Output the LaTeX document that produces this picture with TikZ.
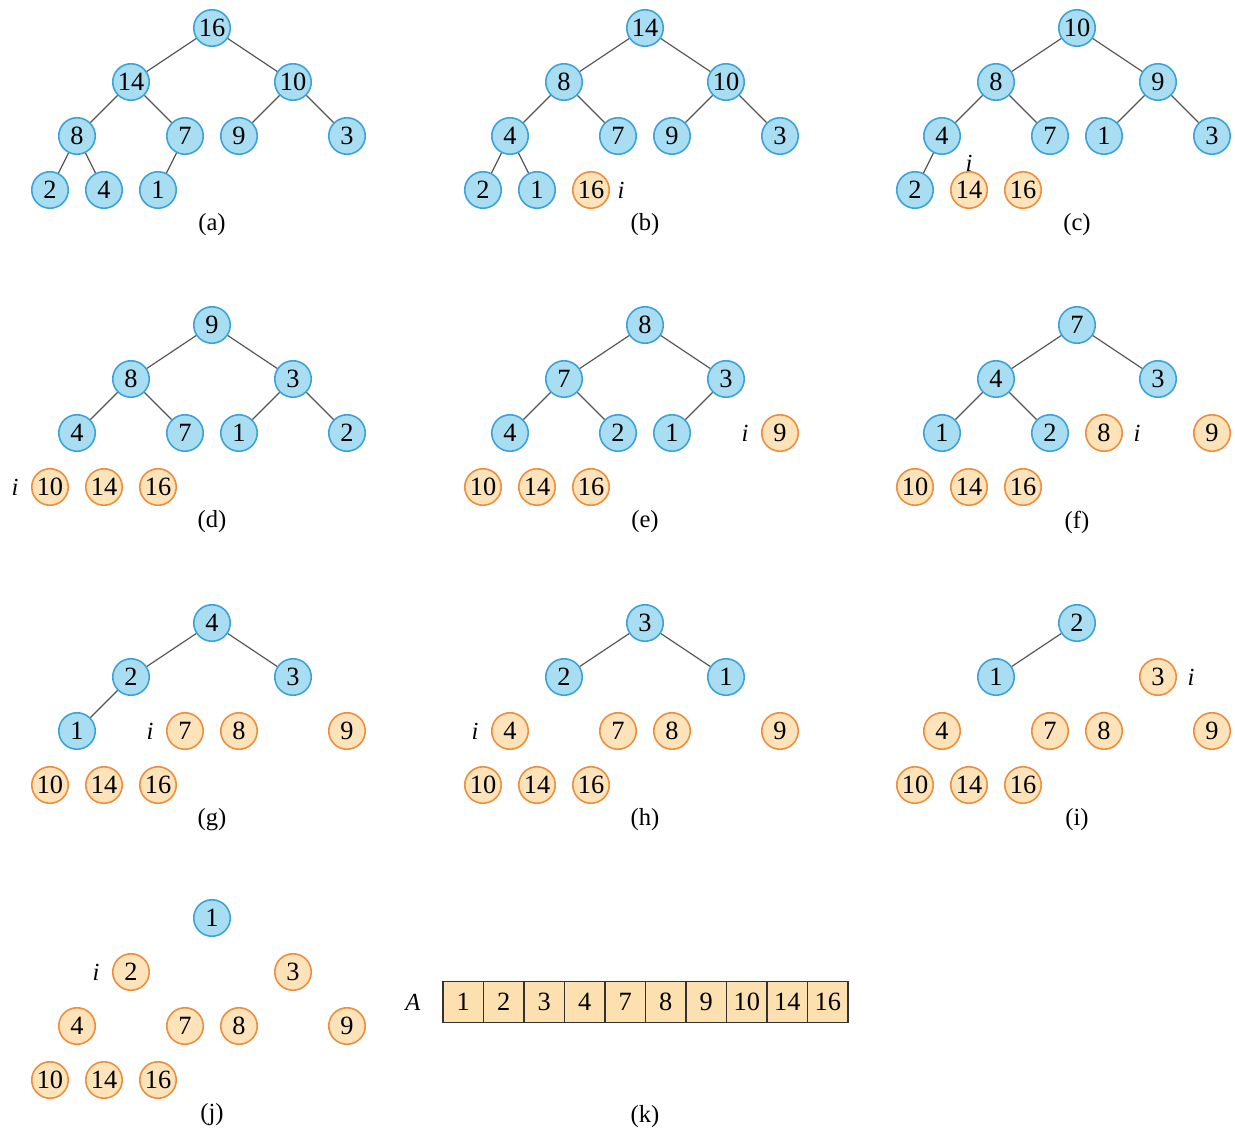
\documentclass[tikz,border=0pt]{standalone}
\usepackage{fontspec}
\setmainfont{Liberation Serif}
\definecolor{bfill}{HTML}{A8DDF2}
\definecolor{bdraw}{HTML}{3BA3DA}
\definecolor{ofill}{HTML}{FDE3BA}
\definecolor{odraw}{HTML}{EE8E3C}
\definecolor{afill}{HTML}{FCE0B0}
\definecolor{edgegray}{HTML}{555555}
\tikzset{
  hn/.style={circle, draw=bdraw, fill=bfill, line width=0.9pt, minimum size=0.73cm, inner sep=0pt, font=\fontsize{15}{15}\selectfont},
  sn/.style={circle, draw=odraw, fill=ofill, line width=0.9pt, minimum size=0.73cm, inner sep=0pt, font=\fontsize{15}{15}\selectfont},
  ed/.style={draw=edgegray, line width=0.7pt},
  lab/.style={font=\fontsize{14}{14}\selectfont},
  ivar/.style={font=\itshape\fontsize{14}{14}\selectfont},
  cell/.style={rectangle, draw=black!80, fill=afill, line width=0.8pt, minimum width=0.81cm, minimum height=0.82cm, inner sep=0pt, font=\fontsize{15}{15}\selectfont}
}
\newcommand\heap[4]{% name, shift, nodes p/v/s, edges
  \begin{scope}[shift={#2}]
    \foreach \p/\v/\s in {#3}{
      \pgfmathsetmacro\xx{{212,131,293,77,185,239,347,50,104,158}[\p-1]}
      \pgfmathsetmacro\yy{{28,82,82,136,136,136,136,190,190,190}[\p-1]}
      \node[\s] (#1\p) at (\xx,\yy) {\v};
    }
    \node[lab] (#1lab) at (212,225) {(#1)};
  \end{scope}
  \foreach \u/\w in {#4}{\draw[ed] (#1\u) -- (#1\w);}
}
\begin{document}
\begin{tikzpicture}[x=0.02cm,y=-0.02cm]
\useasboundingbox (0,0) rectangle (1235,1132);
% (a)
\heap{a}{(0,0)}{1/16/hn,2/14/hn,3/10/hn,4/8/hn,5/7/hn,6/9/hn,7/3/hn,8/2/hn,9/4/hn,10/1/hn}{1/2,1/3,2/4,2/5,3/6,3/7,4/8,4/9,5/10}
% (b)
\heap{b}{(433,0)}{1/14/hn,2/8/hn,3/10/hn,4/4/hn,5/7/hn,6/9/hn,7/3/hn,8/2/hn,9/1/hn,10/16/sn}{1/2,1/3,2/4,2/5,3/6,3/7,4/8,4/9}
\node[ivar] (bi) at ([xshift=0.6cm]b10.center) {i};
% (c)
\heap{c}{(865,0)}{1/10/hn,2/8/hn,3/9/hn,4/4/hn,5/7/hn,6/1/hn,7/3/hn,8/2/hn,9/14/sn,10/16/sn}{1/2,1/3,2/4,2/5,3/6,3/7,4/8}
\node[ivar] (ci) at ([yshift=0.54cm]c9.center) {i};
% (d)
\heap{d}{(0,297)}{1/9/hn,2/8/hn,3/3/hn,4/4/hn,5/7/hn,6/1/hn,7/2/hn,8/10/sn,9/14/sn,10/16/sn}{1/2,1/3,2/4,2/5,3/6,3/7}
\node[ivar] (di) at ([xshift=-0.7cm]d8.center) {i};
% (e)
\heap{e}{(433,297)}{1/8/hn,2/7/hn,3/3/hn,4/4/hn,5/2/hn,6/1/hn,7/9/sn,8/10/sn,9/14/sn,10/16/sn}{1/2,1/3,2/4,2/5,3/6}
\node[ivar] (ei) at ([xshift=-0.7cm]e7.center) {i};
% (f)
\heap{f}{(865,297)}{1/7/hn,2/4/hn,3/3/hn,4/1/hn,5/2/hn,6/8/sn,7/9/sn,8/10/sn,9/14/sn,10/16/sn}{1/2,1/3,2/4,2/5}
\node[ivar] (fi) at ([xshift=0.66cm]f6.center) {i};
% (g)
\heap{g}{(0,595)}{1/4/hn,2/2/hn,3/3/hn,4/1/hn,5/7/sn,6/8/sn,7/9/sn,8/10/sn,9/14/sn,10/16/sn}{1/2,1/3,2/4}
\node[ivar] (gi) at ([xshift=-0.7cm]g5.center) {i};
% (h)
\heap{h}{(433,595)}{1/3/hn,2/2/hn,3/1/hn,4/4/sn,5/7/sn,6/8/sn,7/9/sn,8/10/sn,9/14/sn,10/16/sn}{1/2,1/3}
\node[ivar] (hi) at ([xshift=-0.7cm]h4.center) {i};
% (i)
\heap{i}{(865,595)}{1/2/hn,2/1/hn,3/3/sn,4/4/sn,5/7/sn,6/8/sn,7/9/sn,8/10/sn,9/14/sn,10/16/sn}{1/2}
\node[ivar] (ii) at ([xshift=0.66cm]i3.center) {i};
% (j)
\heap{j}{(0,890)}{1/1/hn,2/2/sn,3/3/sn,4/4/sn,5/7/sn,6/8/sn,7/9/sn,8/10/sn,9/14/sn,10/16/sn}{}
\node[ivar] (ji) at ([xshift=-0.7cm]j2.center) {i};
% (k)
\foreach \v [count=\k] in {1,2,3,4,7,8,9,10,14,16}{
  \node[cell] (k\k) at ({443+40.5*(\k-0.5)},1002) {\v};
}
\node[ivar] (kA) at (413,1002) {A};
\node[lab] (klab) at (645,1117) {(k)};
\end{tikzpicture}
\end{document}
